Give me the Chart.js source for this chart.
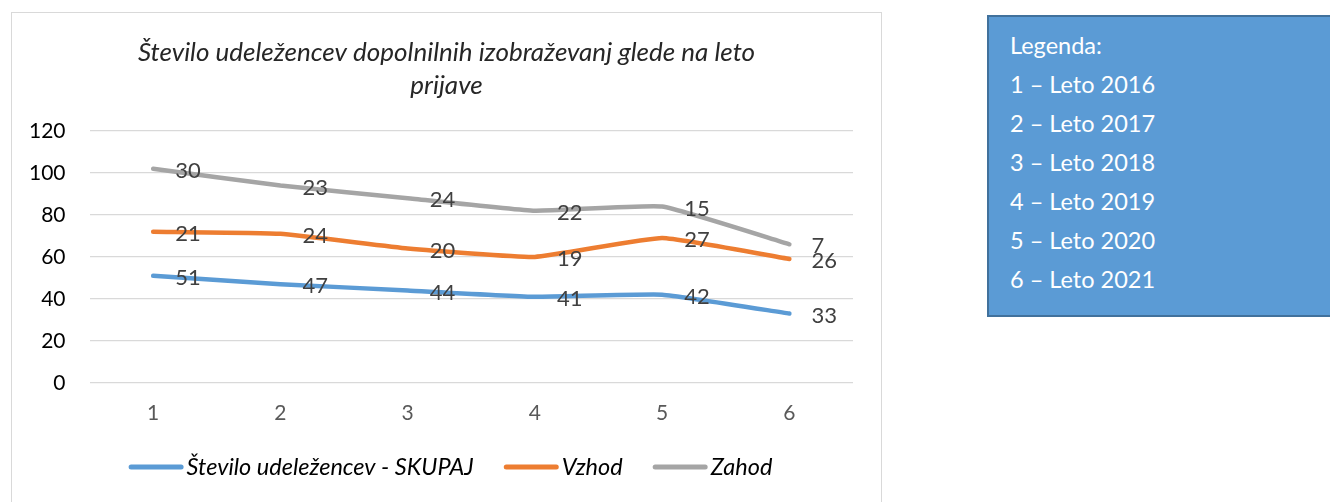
<!DOCTYPE html>
<html>
<head>
<meta charset="utf-8">
<script src="https://cdn.jsdelivr.net/npm/chart.js@4"></script>
<style>
  html, body { margin: 0; padding: 0; background: #fff; width: 1330px; height: 502px; overflow: hidden; }
  #chartBox { position: absolute; left: 11px; top: 12px; width: 871px; height: 500px; border: 1px solid #D9D9D9; box-sizing: border-box; background: #fff; }
  #chartBox canvas { position: absolute; left: 0; top: 0; }
  #legendBox { position: absolute; left: 987px; top: 15px; width: 360px; height: 302px; box-sizing: border-box; background: #5B9BD5; border: 2px solid #41719C; color: #fff; font-family: 'Lato', sans-serif; font-size: 23.5px; padding: 14px 0 0 21px; }
  #legendBox div { height: 39px; line-height: 28px; }
</style>
</head>
<body>
<div id="chartBox"><canvas id="c" width="869" height="498"></canvas></div>
<div id="legendBox"></div>
<script>
const categories = ['1', '2', '3', '4', '5', '6'];
const skupaj = [51, 47, 44, 41, 42, 33];
const vzhod = [21, 24, 20, 19, 27, 26];
const zahod = [30, 23, 24, 22, 15, 7];
const seriesNames = ['Število udeležencev - SKUPAJ', 'Vzhod', 'Zahod'];
const titleLines = ['Število udeležencev dopolnilnih izobraževanj glede na leto', 'prijave'];
const legendLines = ['Legenda:', '1 – Leto 2016', '2 – Leto 2017', '3 – Leto 2018', '4 – Leto 2019', '5 – Leto 2020', '6 – Leto 2021'];

const lb = document.getElementById('legendBox');
legendLines.forEach(t => { const d = document.createElement('div'); d.textContent = t; lb.appendChild(d); });

const colors = ['#5B9BD5', '#ED7D31', '#A5A5A5'];
const FONT = 'Lato';

const labelPlugin = {
  id: 'valLabels',
  afterDatasetsDraw(chart) {
    const ctx = chart.ctx;
    ctx.save();
    ctx.font = '22px "' + FONT + '"';
    ctx.fillStyle = '#404040';
    ctx.textAlign = 'left';
    ctx.textBaseline = 'middle';
    chart.data.datasets.forEach((ds, i) => {
      const meta = chart.getDatasetMeta(i);
      meta.data.forEach((pt, j) => {
        ctx.fillText(String(ds.data[j]), pt.x + 22, pt.y + 2);
      });
    });
    ctx.restore();
  }
};

// Title centred on the whole chart box
const boxTitle = {
  id: 'boxTitle',
  afterDraw(chart) {
    const ctx = chart.ctx;
    ctx.save();
    ctx.font = 'italic 26px "' + FONT + '"';
    ctx.fillStyle = '#262626';
    ctx.textAlign = 'center';
    ctx.textBaseline = 'middle';
    titleLines.forEach((t, i) => ctx.fillText(t, chart.width / 2, 40 + i * 33));
    ctx.restore();
  }
};

// Excel-style legend: line swatch immediately followed by text
const bottomLegend = {
  id: 'bottomLegend',
  afterDraw(chart) {
    const ctx = chart.ctx;
    ctx.save();
    ctx.font = 'italic 23.5px "' + FONT + '"';
    const lineW = 55, gap = 3, itemGap = 30;
    const items = chart.data.datasets.map(ds => ({ text: ds.label, color: ds.borderColor, w: ctx.measureText(ds.label).width }));
    const total = items.reduce((s, it) => s + lineW + gap + it.w, 0) + itemGap * (items.length - 1);
    let x = chart.width / 2 + 4 - total / 2;
    const y = 454;
    items.forEach(it => {
      ctx.strokeStyle = it.color;
      ctx.lineWidth = 5;
      ctx.lineCap = 'round';
      ctx.beginPath();
      ctx.moveTo(x + 2.5, y);
      ctx.lineTo(x + lineW - 2.5, y);
      ctx.stroke();
      ctx.fillStyle = '#000';
      ctx.textAlign = 'left';
      ctx.textBaseline = 'middle';
      ctx.fillText(it.text, x + lineW + gap, y);
      x += lineW + gap + it.w + itemGap;
    });
    ctx.restore();
  }
};

new Chart(document.getElementById('c'), {
  type: 'line',
  data: {
    labels: categories,
    datasets: [skupaj, vzhod, zahod].map((d, i) => ({
      label: seriesNames[i],
      data: d,
      borderColor: colors[i],
      backgroundColor: colors[i],
      borderWidth: 4.5,
      borderCapStyle: 'round',
      borderJoinStyle: 'round',
      pointRadius: 0,
      tension: 0.12,
      fill: false
    }))
  },
  options: {
    responsive: false,
    animation: false,
    layout: { padding: { left: -7, right: 28, top: 118, bottom: 67 } },
    plugins: {
      title: { display: false },
      legend: { display: false },
      tooltip: { enabled: false }
    },
    scales: {
      x: {
        offset: true,
        grid: { display: false, drawTicks: false },
        border: { display: false },
        ticks: { color: '#595959', font: { family: FONT, size: 21 }, padding: 18 }
      },
      y: {
        stacked: true,
        min: 0, max: 120,
        grid: { color: '#D9D9D9', lineWidth: 1.3, drawTicks: false },
        border: { display: false },
        ticks: { stepSize: 20, color: '#000', font: { family: FONT, size: 21 }, padding: 24 }
      }
    }
  },
  plugins: [labelPlugin, boxTitle, bottomLegend]
});
</script>
</body>
</html>
